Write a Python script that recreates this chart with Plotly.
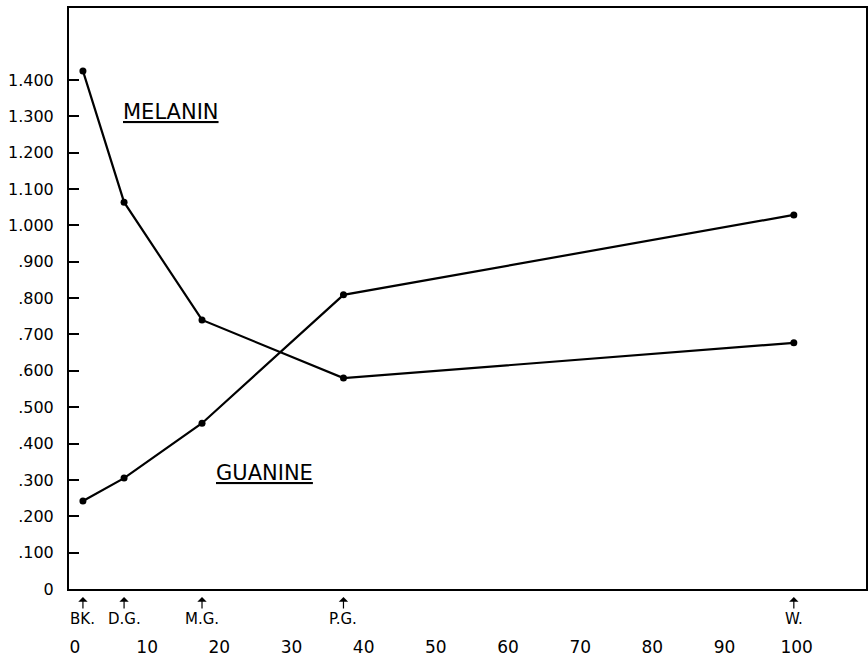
import plotly.graph_objects as go

# Data
stage_labels = ["BK.", "D.G.", "M.G.", "P.G.", "W."]
stage_x = [1.1, 6.8, 17.6, 37.2, 99.6]
melanin = [1.425, 1.064, 0.740, 0.580, 0.677]
guanine = [0.242, 0.305, 0.456, 0.809, 1.029]

y_tickvals = [0, 0.1, 0.2, 0.3, 0.4, 0.5, 0.6, 0.7, 0.8, 0.9, 1.0, 1.1, 1.2, 1.3, 1.4]
y_ticktext = ["0", ".100", ".200", ".300", ".400", ".500", ".600", ".700", ".800", ".900",
              "1.000", "1.100", "1.200", "1.300", "1.400"]
x_tickvals = [0, 10, 20, 30, 40, 50, 60, 70, 80, 90, 100]

FONT = "DejaVu Sans"

fig = go.Figure()
fig.add_trace(go.Scatter(x=stage_x, y=melanin, mode="lines+markers", name="MELANIN",
                         line=dict(color="black", width=2.2),
                         marker=dict(color="black", size=7)))
fig.add_trace(go.Scatter(x=stage_x, y=guanine, mode="lines+markers", name="GUANINE",
                         line=dict(color="black", width=2.2),
                         marker=dict(color="black", size=7)))

annotations = [
    dict(x=13.3, y=1.312, xref="x", yref="y", text="<u>MELANIN</u>", showarrow=False,
         font=dict(family=FONT, size=21, color="black")),
    dict(x=26.2, y=0.319, xref="x", yref="y", text="<u>GUANINE</u>", showarrow=False,
         font=dict(family=FONT, size=21, color="black")),
]
for lab, xv in zip(stage_labels, stage_x):
    annotations.append(dict(x=xv, y=0, xref="x", yref="y", text=lab, showarrow=True,
                            arrowhead=1, arrowsize=1.3, arrowwidth=1.2, arrowcolor="black",
                            ax=0, ay=22, yshift=-8, standoff=0,
                            font=dict(family=FONT, size=15, color="black")))

fig.update_layout(
    width=868, height=667,
    margin=dict(l=69, r=2, t=8, b=78, autoexpand=False),
    paper_bgcolor="white", plot_bgcolor="white",
    showlegend=False,
    annotations=annotations,
    xaxis=dict(range=[-0.83, 109.6], tickvals=x_tickvals, ticks="",
               showgrid=False, zeroline=False, showline=True, linecolor="black",
               linewidth=2, mirror=True, ticklabelstandoff=42, automargin=False,
               tickfont=dict(family=FONT, size=17, color="black")),
    yaxis=dict(range=[0, 1.598], tickvals=y_tickvals, ticktext=y_ticktext,
               ticks="inside", ticklen=10, tickwidth=1.5, tickcolor="black",
               showgrid=False, zeroline=False, showline=True, linecolor="black",
               linewidth=2, mirror=True, ticklabelstandoff=10, automargin=False,
               tickfont=dict(family=FONT, size=16, color="black")),
)

fig.write_html("out.html",
               config={"displayModeBar": False},
               post_script="document.body.style.margin='0px';document.body.style.overflow='hidden';")
